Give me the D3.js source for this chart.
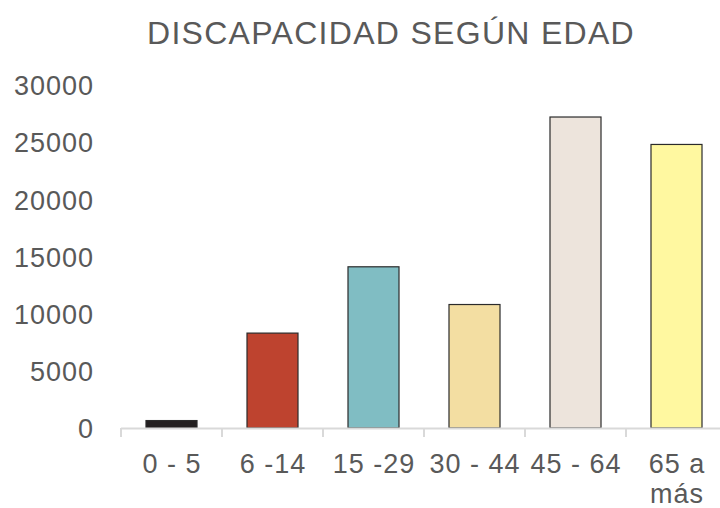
<!DOCTYPE html>
<html>
<head>
<meta charset="utf-8">
<script src="https://cdn.jsdelivr.net/npm/d3@7"></script>
<style>
  html, body { margin: 0; padding: 0; background: #fff; }
  svg { display: block; font-family: "Liberation Sans", Arial, sans-serif; }
</style>
</head>
<body>
<svg id="chart" width="720" height="508"></svg>
<script>
// Age groups and number of people with a disability in each
const categories = ["0 - 5", "6 -14", "15 -29", "30 - 44", "45 - 64", "65 a más"];
const values = [650, 8300, 14100, 10800, 27200, 24800];
const barColors = ["#231f20", "#be432f", "#80bdc3", "#f3dea2", "#ede4dc", "#fff8a0"];
const yTicks = [0, 5000, 10000, 15000, 20000, 25000, 30000];
const title = "DISCAPACIDAD SEGÚN EDAD";

const svg = d3.select("#chart");
const textColor = "#595959";

const x = d3.scaleBand()
  .domain(categories)
  .range([121, 727])
  .paddingInner(0.495)
  .paddingOuter(0.2475);

const y = d3.scaleLinear()
  .domain([0, 30000])
  .range([428, 85]);

// Title
svg.append("text")
  .attr("x", 391)
  .attr("y", 44)
  .attr("text-anchor", "middle")
  .attr("font-size", 32)
  .attr("letter-spacing", 1.3)
  .attr("fill", textColor)
  .text(title);

// Bars
svg.append("g")
  .selectAll("rect")
  .data(values)
  .join("rect")
  .attr("x", (d, i) => x(categories[i]))
  .attr("y", d => y(d))
  .attr("width", x.bandwidth())
  .attr("height", d => y(0) - y(d))
  .attr("fill", (d, i) => barColors[i])
  .attr("stroke", "#2b2b2b")
  .attr("stroke-width", 1.2);

// Y axis labels (no axis line)
const yAxis = d3.axisLeft(y).tickValues(yTicks).tickSize(0).tickPadding(0).tickFormat(d3.format("d"));
const gy = svg.append("g").attr("transform", "translate(94,0)").call(yAxis);
gy.select(".domain").remove();
gy.selectAll("text")
  .attr("font-size", 27)
  .attr("letter-spacing", 1)
  .attr("fill", textColor)
  .attr("font-family", "'Liberation Sans', Arial, sans-serif")
  .attr("dy", "0.36em");

// X axis: baseline with tick marks between categories
const boundaries = categories.map(c => x(c) - x.step() * x.paddingInner() / 2);
const gx = svg.append("g");
gx.append("line")
  .attr("x1", boundaries[0]).attr("x2", 720)
  .attr("y1", y(0) + 0.5).attr("y2", y(0) + 0.5)
  .attr("stroke", "#d9d9d9").attr("stroke-width", 2);
gx.selectAll("line.tick")
  .data(boundaries)
  .join("line")
  .attr("class", "tick")
  .attr("x1", d => d).attr("x2", d => d)
  .attr("y1", y(0)).attr("y2", y(0) + 9)
  .attr("stroke", "#d9d9d9").attr("stroke-width", 2);

// Category labels; the last one wraps onto two lines
const labelLines = categories.map(c => c === "65 a más" ? ["65 a", "más"] : [c]);
gx.selectAll("text")
  .data(categories)
  .join("text")
  .attr("y", 473)
  .attr("text-anchor", "middle")
  .attr("font-size", 27)
  .attr("letter-spacing", 1)
  .attr("fill", textColor)
  .each(function(d, i) {
    const t = d3.select(this);
    labelLines[i].forEach((line, j) => {
      t.append("tspan")
        .attr("x", x(d) + x.bandwidth() / 2 + 0.5)
        .attr("dy", j === 0 ? 0 : 30)
        .text(line);
    });
  });
</script>
</body>
</html>
